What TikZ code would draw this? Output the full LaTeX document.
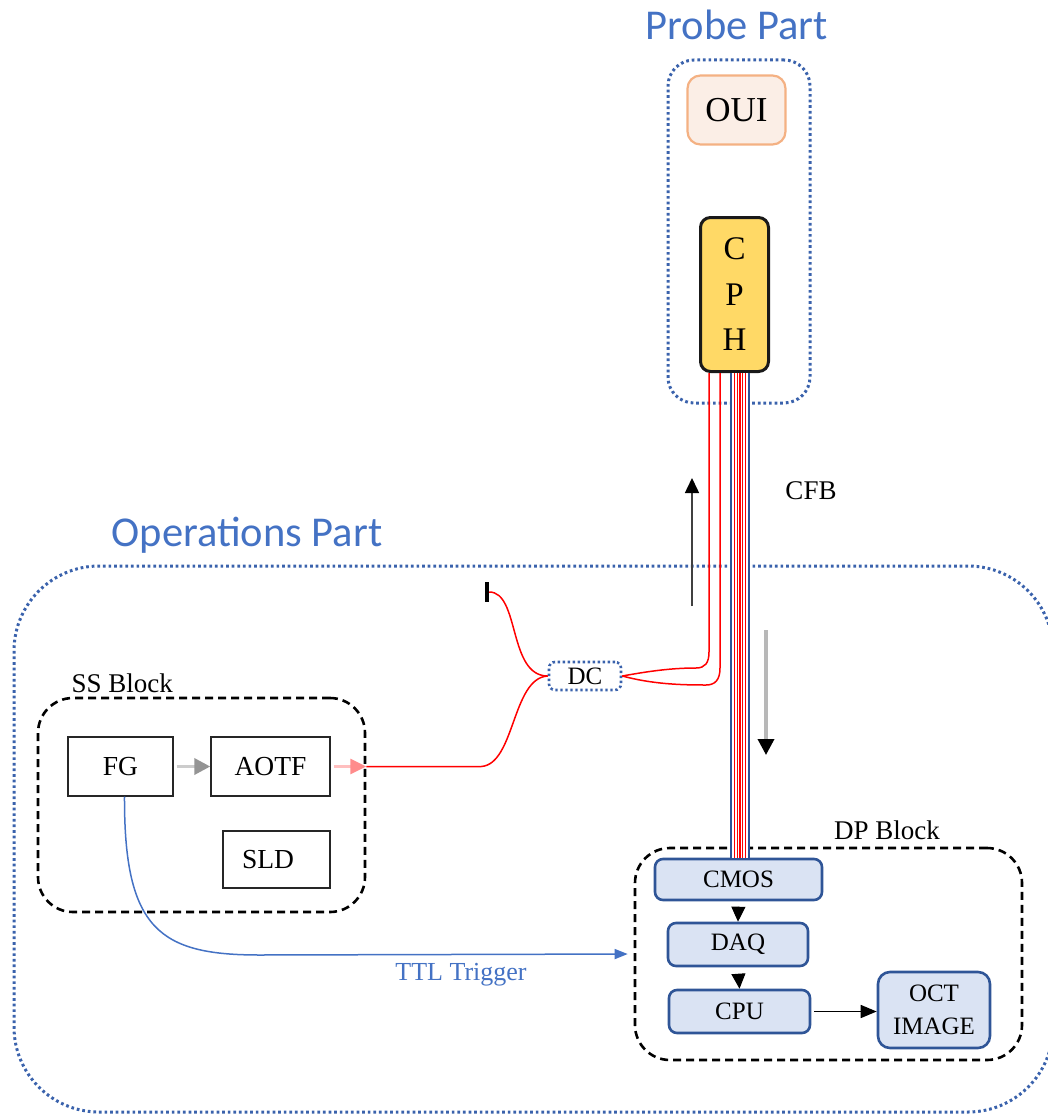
\documentclass[tikz,border=0pt]{standalone}
\usepackage{fontspec}
\setmainfont{Liberation Serif}
\newfontfamily\titlefont{Carlito}
\usetikzlibrary{arrows.meta,calc}

\definecolor{ttlblue}{HTML}{4472C4}
\definecolor{dotblue}{HTML}{3A62AC}
\definecolor{dpfill}{HTML}{DAE3F3}
\definecolor{dpdraw}{HTML}{2F5597}
\definecolor{ouifill}{HTML}{FBEEE6}
\definecolor{ouidraw}{HTML}{F4B183}
\definecolor{cphfill}{HTML}{FFD966}
\definecolor{fibred}{HTML}{FF0000}

\begin{document}
\begin{tikzpicture}[x=1pt,y=-1pt,
  parttitle/.style={font=\titlefont\fontsize{42.5}{46}\selectfont, text=ttlblue},
  partbox/.style={draw=dotblue, line width=3pt, dash pattern=on 2.7pt off 2.9pt,
    line cap=butt, inner sep=0pt},
  blockbox/.style={draw=black, line width=2.6pt, dash pattern=on 8pt off 5pt,
    rounded corners=35pt, inner sep=0pt},
  blocklabel/.style={font=\fontsize{27}{30}\selectfont},
  ssbox/.style={draw=black!85, line width=1.4pt, inner sep=0pt,
    font=\fontsize{27.5}{30}\selectfont},
  dpbox/.style={draw=dpdraw, fill=dpfill, line width=2.6pt, rounded corners=8pt,
    inner sep=0pt, font=\fontsize{25}{33}\selectfont, align=center},
  fiber/.style={draw=fibred, line width=1.5pt},
  blackhead/.style={-{Triangle[width=14pt,length=15pt]}, black, line width=1pt},
]
\useasboundingbox (0,0) rectangle (1047,1116);

% section titles and enclosures
\node[parttitle] (probetitle) at (736.5,25) {Probe Part};
\node[parttitle] (opstitle) at (247,535) {Operations Part};
\node[partbox, rounded corners=26pt, minimum width=142pt, minimum height=343pt]
  (probe) at (739,231.5) {};
\node[partbox, rounded corners=85pt, minimum width=1039pt, minimum height=546pt]
  (ops) at (533.5,839) {};

% probe part
\node[draw=ouidraw, fill=ouifill, line width=2.2pt, rounded corners=13pt,
  minimum width=98pt, minimum height=69pt, font=\fontsize{35}{38}\selectfont]
  (oui) at (736.5,110) {OUI};
\node[draw=black!90, fill=cphfill, line width=3pt, rounded corners=10pt,
  minimum width=68pt, minimum height=154pt, align=center,
  font=\fontsize{33}{45.5}\selectfont] (cph) at (734.5,294.5) {C\\P\\H};

% SS block
\node[blockbox, minimum width=327pt, minimum height=214pt] (ss) at (201.5,805) {};
\node[blocklabel, anchor=west] (sslabel) at (68,683) {SS Block};
\node[ssbox, minimum width=105pt, minimum height=59pt] (fg) at (120.5,766.5) {FG};
\node[ssbox, minimum width=119pt, minimum height=59pt] (aotf) at (270.5,766.5) {AOTF};
\node[ssbox, minimum width=107pt, minimum height=57pt, text width=95pt, align=left]
  (sld) at (276.5,859.5) {\hspace*{13pt}SLD};

% DP block
\node[blockbox, minimum width=387pt, minimum height=212pt] (dp) at (828.5,954) {};
\node[blocklabel] (dplabel) at (887,830) {DP Block};
\node[dpbox, minimum width=167pt, minimum height=41pt] (cmos) at (738.5,879.5) {CMOS};
\node[dpbox, minimum width=140pt, minimum height=43pt] (daq) at (738,944.5) {DAQ};
\node[dpbox, minimum width=141pt, minimum height=43pt] (cpu) at (739.5,1011.5) {CPU};
\node[dpbox, minimum width=112pt, minimum height=76pt, rounded corners=12pt]
  (oct) at (934,1010) {OCT\\IMAGE};

% directional coupler and fiber end
\node[draw=dotblue, line width=2.6pt, dash pattern=on 2.4pt off 2.6pt, line cap=butt,
  rounded corners=6pt, minimum width=72pt, minimum height=28pt, inner sep=0pt,
  font=\fontsize{25}{27}\selectfont] (dc) at (585,676) {DC};
\node[fill=black, minimum width=4pt, minimum height=20pt, inner sep=0pt] (term) at (487,592) {};

% labels
\node[blocklabel] (cfb) at (811,491) {CFB};
\node[font=\fontsize{26}{28}\selectfont, text=ttlblue] (ttl) at (461,975) {TTL Trigger};

% fiber bundle from the probe head down to the camera
\coordinate (bx) at (740,0);
\fill[white] ($(cph.south -| bx)+(-9,0)$) rectangle ($(cmos.north -| bx)+(9,0)$);
\foreach \dx in {-5.6,-2.8,0,2.8,5.6}
  \draw[fibred, line width=1.3pt] ($(cph.south -| bx)+(\dx,0)$) -- ($(cmos.north -| bx)+(\dx,0)$);
\foreach \dx in {-9,9}
  \draw[dpdraw, line width=2.8pt] ($(cph.south -| bx)+(\dx,0)$) -- ($(cmos.north -| bx)+(\dx,0)$);

% single fibers between coupler and probe head
\coordinate (f1) at (709,0);
\coordinate (f2) at (720,0);
\draw[fiber] (dc.east) .. controls (650,671) and (672,668) .. (696,668)
  .. controls (705,668) and (709,663) .. (709,652) -- (cph.south -| f1);
\draw[fiber] (dc.east) .. controls (652,684) and (680,685) .. (706,685)
  .. controls (715,685) and (720,680) .. (720,668) -- (cph.south -| f2);

% fiber from the source into the coupler, and to the fiber end
\draw[fiber] (ss.east |- aotf.east) -- ++(115,0)
  .. controls (515,764) and (512,678) .. (dc.west);
\draw[fiber] (term.east) .. controls (520,592) and (508,676) .. (dc.west);

% light path inside the source block
\draw[draw=black!20, line width=3.5pt, -{Triangle[width=16pt,length=16pt,color=black!42]},
  shorten <=3pt] (fg.east) -- (aotf.west);
\draw[draw=fibred!25, line width=3pt, -{Triangle[width=15pt,length=16pt,color=fibred!45]},
  shorten <=3pt] (aotf.east) -- (ss.east |- aotf.east);

% propagation direction arrows
\coordinate (upfrom) at (692,606);
\coordinate (upto) at (692,478);
\draw[draw=black!75, line width=1.5pt, -{Triangle[width=14pt,length=15pt,color=black]}]
  (upfrom) -- (upto);
\coordinate (dnfrom) at (766,630);
\coordinate (dnto) at (766,755);
\draw[draw=black!28, line width=3.5pt, -{Triangle[width=16pt,length=16pt,color=black]}]
  (dnfrom) -- (dnto);

% processing chain
\draw[blackhead, shorten <=7pt] (cmos.south) -- (daq.north);
\draw[blackhead, shorten <=7pt] (daq.south) -- (cpu.north);
\draw[black, line width=1.5pt, -{Triangle[width=13pt,length=16pt]}, shorten <=3pt]
  (cpu.east) -- (cpu.east -| oct.west);

% trigger line
\draw[ttlblue, line width=1.5pt, -{Triangle[width=10pt,length=13pt]}, shorten >=6pt]
  ([xshift=4pt]fg.south) .. controls (124,930) and (160,955) .. (260,955) -- (dp.west);
\end{tikzpicture}
\end{document}
